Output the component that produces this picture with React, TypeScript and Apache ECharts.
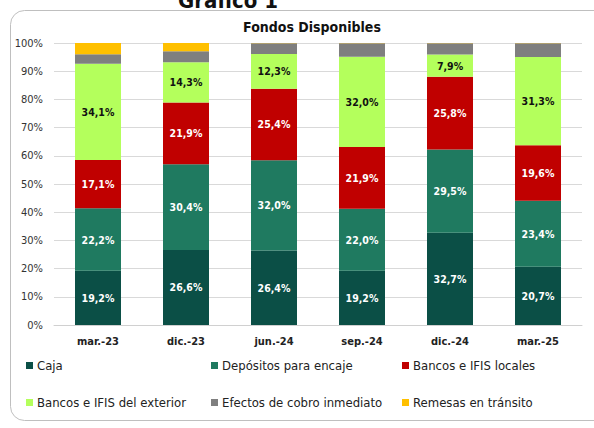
import React, { useEffect, useRef } from "react";
import * as echarts from "echarts";

const categories = ["mar.-23", "dic.-23", "jun.-24", "sep.-24", "dic.-24", "mar.-25"];
const caja = [19.2, 26.6, 26.4, 19.2, 32.7, 20.7];
const depositos = [22.2, 30.4, 32.0, 22.0, 29.5, 23.4];
const bancosLocales = [17.1, 21.9, 25.4, 21.9, 25.8, 19.6];
const bancosExterior = [34.1, 14.3, 12.3, 32.0, 7.9, 31.3];
const efectos = [3.4, 3.9, 3.8, 4.8, 4.0, 4.9];
const remesas = [4.0, 2.9, 0.1, 0.1, 0.1, 0.1];
const yTicks = [0, 10, 20, 30, 40, 50, 60, 70, 80, 90, 100];

const seriesNames = [
  "Caja",
  "Depósitos para encaje",
  "Bancos e IFIS locales",
  "Bancos e IFIS del exterior",
  "Efectos de cobro inmediato",
  "Remesas en tránsito",
];
const seriesData = [caja, depositos, bancosLocales, bancosExterior, efectos, remesas];
const colors = ["#0B4F46", "#1F7A60", "#C00000", "#B4FF5C", "#7F7F7F", "#FFC000"];
const labelColors = ["#ffffff", "#ffffff", "#ffffff", "#111111", null, null];

const FONT = "DejaVu Sans Condensed";

export default function App() {
  const ref = useRef<HTMLDivElement>(null);
  useEffect(() => {
    if (!ref.current) return;
    const chart = echarts.init(ref.current, undefined, { renderer: "svg" });
    const legendPos = [
      [21, 354],
      [206, 354],
      [397, 354],
      [21, 391],
      [206, 391],
      [397, 391],
    ];
    chart.setOption({
      animation: false,
      graphic: [
        {
          type: "rect",
          shape: { x: 10.5, y: 10.5, width: 620, height: 410, r: 14 },
          style: { fill: "none", stroke: "#bfbfbf", lineWidth: 1 },
          z: -1,
        },
        {
          type: "text",
          x: 228,
          y: 11,
          style: {
            text: "Gráfico 1",
            font: `bold 22px ${FONT}`,
            fill: "#111",
            align: "center",
            verticalAlign: "bottom",
          },
        },
      ],
      title: {
        text: "Fondos Disponibles",
        left: 307,
        top: 15,
        textAlign: "center",
        textStyle: { fontFamily: FONT, fontSize: 14, fontWeight: "bold", color: "#111" },
      },
      legend: seriesNames.map((n, i) => ({
        data: [n],
        left: legendPos[i][0],
        top: legendPos[i][1],
        itemWidth: 7,
        itemHeight: 7,
        icon: "rect",
        itemGap: 4,
        textStyle: { fontFamily: FONT, fontSize: 13, color: "#222", padding: [0, 0, 0, -1] },
      })),
      grid: { left: 54, right: 12, top: 43, bottom: 103, containLabel: false },
      xAxis: {
        type: "category",
        data: categories,
        axisTick: { show: false },
        axisLine: { lineStyle: { color: "#d0d0d0" } },
        axisLabel: { fontFamily: FONT, fontSize: 11, fontWeight: "bold", color: "#222", margin: 11 },
      },
      yAxis: {
        type: "value",
        min: 0,
        max: 100,
        interval: 10,
        axisLine: { show: false },
        axisTick: { show: false },
        splitLine: { lineStyle: { color: "#d9d9d9" } },
        axisLabel: {
          fontFamily: FONT,
          fontSize: 11,
          color: "#333",
          margin: 11,
          formatter: (v: number) => (yTicks.includes(v) ? `${v}%` : ""),
        },
      },
      series: seriesNames.map((n, i) => ({
        name: n,
        type: "bar",
        stack: "total",
        barWidth: 46,
        data: seriesData[i],
        itemStyle: { color: colors[i] },
        label: {
          show: labelColors[i] !== null,
          position: "inside",
          color: labelColors[i] || "#000",
          fontFamily: FONT,
          fontSize: 10.5,
          fontWeight: "bold",
          formatter: (p: any) => `${p.value.toFixed(1).replace(".", ",")}%`,
        },
      })),
    });
    return () => chart.dispose();
  }, []);
  return (
    <div
      ref={ref}
      style={{ position: "fixed", left: 0, top: 0, width: 594, height: 428, background: "#fff" }}
    />
  );
}
